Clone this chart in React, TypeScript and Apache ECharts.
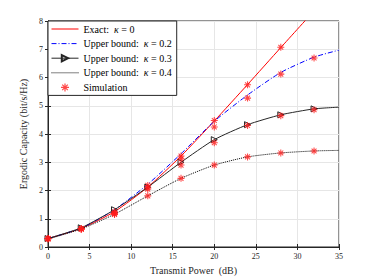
import React, { useEffect, useRef } from "react";
import * as echarts from "echarts";

const curveX = [0, 4, 8, 12, 16, 20, 24, 28, 32, 35];
const exactK0 = [0.3, 0.66, 1.25, 2.12, 3.22, 4.46, 5.75, 7.06, 8.36, null];
const boundK02 = [0.3, 0.67, 1.32, 2.22, 3.3, 4.45, 5.38, 6.18, 6.72, 6.97];
const boundK03 = [0.3, 0.68, 1.32, 2.12, 3.0, 3.8, 4.33, 4.68, 4.89, 4.95];
const boundK04 = [0.28, 0.64, 1.16, 1.81, 2.43, 2.9, 3.19, 3.33, 3.4, 3.42];

const simX = [0, 4, 8, 12, 16, 20, 24, 28, 32];
const simK0 = [0.3, 0.65, 1.25, 2.18, 3.22, 4.48, 5.74, 7.07, null];
const simK02 = [0.3, 0.65, 1.2, 2.1, 3.12, 4.25, 5.27, 6.12, 6.69];
const simK03 = [0.3, 0.64, 1.17, 2.05, 2.9, 3.69, 4.3, 4.65, 4.86];
const simK04 = [0.28, 0.63, 1.15, 1.81, 2.43, 2.9, 3.19, 3.33, 3.4];

const xTicks = { min: 0, max: 35, interval: 5 };
const yTicks = { min: 0, max: 8, interval: 1 };

const legendNames = [
  "Exact: κ = 0",
  "Upper bound: κ = 0.2",
  "Upper bound: κ = 0.3",
  "Upper bound: κ = 0.4",
  "Simulation",
];

const pair = (xs: number[], ys: (number | null)[]) =>
  xs.map((x, i) => [x, ys[i]]).filter((p) => p[1] !== null);

const ASTERISK =
  "path://M0 8.5 H20 V11.5 H0 Z M8.5 0 H11.5 V20 H8.5 Z M4.1 2 L18 15.9 L15.9 18 L2 4.1 Z M15.9 2 L18 4.1 L4.1 18 L2 15.9 Z";

const FONT = "Times New Roman";

export default function App() {
  const ref = useRef<HTMLDivElement>(null);
  useEffect(() => {
    const chart = echarts.init(ref.current!, undefined, { renderer: "svg" });
    const simSeries = [simK0, simK02, simK03, simK04].map((ys) => ({
      name: "Simulation",
      type: "scatter",
      data: pair(simX, ys),
      symbol: ASTERISK,
      symbolSize: 7,
      itemStyle: { color: "#ff1a1a" },
      z: 5,
    }));
    const k03Data = pair(curveX, boundK03).map((p) =>
      p[0] === 35 ? { value: p, symbol: "none" } : { value: p }
    );
    chart.setOption({
      animation: false,
      textStyle: { fontFamily: FONT, fontWeight: "normal" },
      grid: {
        left: 48,
        right: 35,
        top: 21,
        bottom: 31,
        show: true,
        borderColor: "#262626",
        borderWidth: 1,
        backgroundColor: "#fff",
      },
      legend: {
        left: 48,
        top: 21,
        orient: "vertical",
        backgroundColor: "#fff",
        borderColor: "#262626",
        borderWidth: 1,
        borderRadius: 0,
        padding: [3, 5, 3, 3],
        itemWidth: 27,
        itemHeight: 8,
        itemGap: 4.6,
        lineStyle: { width: 1 },
        data: legendNames.map((n, i) =>
          i === 2 || i === 4 ? { name: n } : { name: n, itemStyle: { opacity: 0 } }
        ),
        formatter: (name: string) => {
          const m = name.match(/^(.*?):\s*κ = (.*)$/);
          if (m) return `{t|${m[1]}:}  {k|κ}{t| = ${m[2]}}`;
          return `{t|${name}}`;
        },
        textStyle: {
          fontFamily: FONT,
          fontSize: 10,
          fontWeight: "normal",
          color: "#000",
          rich: {
            t: { fontFamily: FONT, fontSize: 10, fontWeight: "normal", color: "#000" },
            k: { fontFamily: FONT, fontSize: 10, fontWeight: "normal", color: "#000", fontStyle: "italic" },
          },
        },
      },
      xAxis: [
        {
          type: "value",
          ...xTicks,
          name: "Transmit Power  (dB)",
          nameLocation: "middle",
          nameGap: 18,
          nameTextStyle: { fontFamily: FONT, fontSize: 10, fontWeight: "normal", color: "#262626" },
          axisLine: { show: true, lineStyle: { color: "#262626" } },
          axisTick: { show: true, inside: true, length: 3, lineStyle: { color: "#262626" } },
          axisLabel: { fontFamily: FONT, fontSize: 8, color: "#262626", margin: 5 },
          splitLine: { show: true, lineStyle: { color: "#e6e6e6", width: 1 } },
        },
        {
          type: "value",
          ...xTicks,
          position: "top",
          axisLine: { show: true, lineStyle: { color: "#262626" } },
          axisTick: { show: true, inside: true, length: 3, lineStyle: { color: "#262626" } },
          axisLabel: { show: false },
          splitLine: { show: false },
        },
      ],
      yAxis: [
        {
          type: "value",
          ...yTicks,
          name: "Ergodic Capacity (bit/s/Hz)",
          nameLocation: "middle",
          nameGap: 16,
          nameTextStyle: { fontFamily: FONT, fontSize: 10, fontWeight: "normal", color: "#262626" },
          axisLine: { show: true, lineStyle: { color: "#262626" } },
          axisTick: { show: true, inside: true, length: 3, lineStyle: { color: "#262626" } },
          axisLabel: { fontFamily: FONT, fontSize: 8, color: "#262626", margin: 5 },
          splitLine: { show: true, lineStyle: { color: "#e6e6e6", width: 1 } },
        },
        {
          type: "value",
          ...yTicks,
          position: "right",
          axisLine: { show: true, lineStyle: { color: "#262626" } },
          axisTick: { show: true, inside: true, length: 3, lineStyle: { color: "#262626" } },
          axisLabel: { show: false },
          splitLine: { show: false },
        },
      ],
      series: [
        {
          name: legendNames[0],
          type: "line",
          data: pair(curveX, exactK0),
          symbol: "none",
          smooth: 0.2,
          clip: true,
          lineStyle: { color: "#ff0000", width: 1 },
          itemStyle: { color: "#ff0000" },
        },
        {
          name: legendNames[1],
          type: "line",
          data: pair(curveX, boundK02),
          symbol: "none",
          smooth: 0.2,
          lineStyle: { color: "#0000ff", width: 1, type: [5, 2, 1, 2] },
          itemStyle: { color: "#0000ff" },
        },
        {
          name: legendNames[2],
          type: "line",
          data: k03Data,
          symbol: "triangle",
          symbolRotate: -90,
          symbolSize: 6,
          showAllSymbol: true,
          smooth: 0.2,
          lineStyle: { color: "#262626", width: 1 },
          itemStyle: { color: "rgba(255,255,255,0)", borderColor: "#262626", borderWidth: 1 },
        },
        {
          name: legendNames[3],
          type: "line",
          data: pair(curveX, boundK04),
          symbol: "none",
          smooth: 0.2,
          lineStyle: { color: "#000", width: 1, type: [1, 1] },
          itemStyle: { color: "#000" },
        },
        ...simSeries,
      ],
    });
    return () => chart.dispose();
  }, []);
  return (
    <div
      ref={ref}
      style={{ position: "fixed", left: 0, top: 0, width: 374, height: 280, background: "#fff" }}
    />
  );
}
